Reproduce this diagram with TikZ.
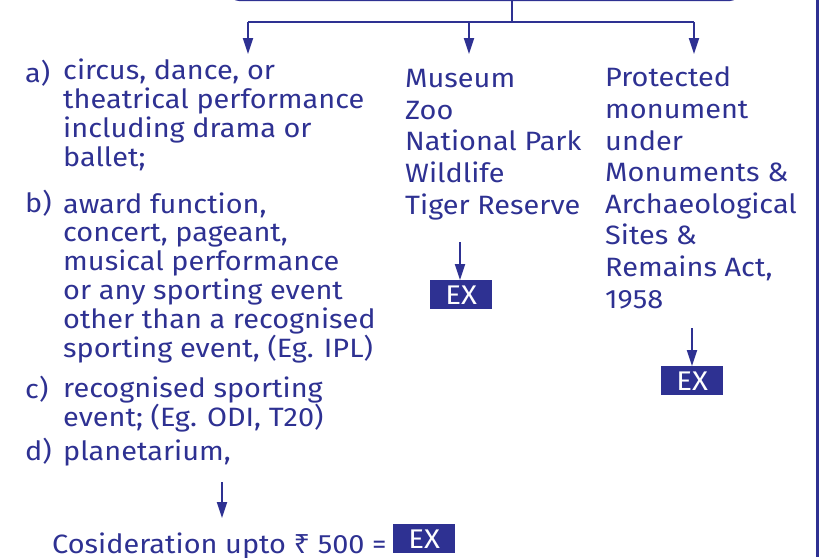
\documentclass[tikz,border=0pt]{standalone}
\usepackage{fontspec}
\setmainfont{Fira Sans}[FakeStretch=1.09]
\newfontfamily\rupeefont{Noto Sans}[FakeStretch=1.09]
\usetikzlibrary{arrows.meta,positioning}
\definecolor{exblue}{HTML}{2E3192}

\begin{document}
\begin{tikzpicture}[x=1pt,y=-1pt,
    every node/.style={text=exblue,inner sep=0pt},
    body/.style={anchor=base west,align=left,font=\fontsize{26.5}{31.6}\selectfont},
    itemtext/.style={anchor=base west,align=left,font=\fontsize{26.5}{28.8}\selectfont},
    exbox/.style={fill=exblue,text=white,anchor=north west,minimum width=62pt,
        minimum height=29pt,font=\fontsize{27}{30}\selectfont},
    link/.style={draw=exblue,line width=2.5pt},
    arr/.style={draw=exblue,line width=2pt,-{Triangle[length=16pt,width=10pt]}},
]
\useasboundingbox (0,0) rectangle (821,557);

% source box and fork
\node[draw=exblue,line width=2.5pt,rounded corners=8pt,anchor=south,
    minimum width=507pt,minimum height=40pt] (src) at (484.5,1) {};
\coordinate (fork) at (512,22);
\coordinate (forkl) at (248,22);
\coordinate (forkm) at (469,22);
\coordinate (forkr) at (694,22);
\draw[link] (src.south -| fork) -- (fork);
\draw[link] (forkl) -- (forkr);
\draw[arr] (forkl) -- ++(0,32);
\draw[arr] (forkm) -- ++(0,32);
\draw[arr] (forkr) -- ++(0,32);

% left column (base = last line)
\node[itemtext] (la) at (25,82) {a)};
\node[itemtext] (ta) at (63,166) {circus, dance, or\\theatrical performance\\including drama or\\ballet;};
\node[itemtext] (lb) at (25,212) {b)};
\node[itemtext] (tb) at (63,357) {award function,\\concert, pageant,\\musical performance\\or any sporting event\\other than a recognised\\sporting event, (Eg. IPL)};
\node[itemtext] (lc) at (25,398) {c)};
\node[itemtext] (tc) at (63,426) {recognised sporting\\event; (Eg. ODI, T20)};
\node[itemtext] (ld) at (25,460) {d)};
\node[itemtext] (td) at (63,460) {planetarium,};
\node[itemtext] (cons) at (52,553) {Cosideration upto {\rupeefont ₹} 500 =};
\node[exbox] (exa) at (393,524) {EX};
\coordinate (dtip) at (222,518);
\draw[arr] (dtip |- 0,482) -- (dtip);

% middle column
\node[body] (places) at (405,214) {Museum\\Zoo\\National Park\\Wildlife\\Tiger Reserve};
\node[exbox] (exb) at (430,280) {EX};
\draw[arr] (exb.north -| 460,0) ++(0,-38) -- (exb.north -| 460,0);

% right column
\node[body] (monu) at (605,308) {Protected\\monument\\under\\Monuments \&\\Archaeological\\Sites \&\\Remains Act,\\1958};
\node[exbox] (exc) at (661,366) {EX};
\draw[arr] (exc.north -| 692,0) ++(0,-38) -- (exc.north -| 692,0);

% right rule
\draw[draw=exblue,line width=3pt] (817.5,0) -- (817.5,557);
\end{tikzpicture}
\end{document}
